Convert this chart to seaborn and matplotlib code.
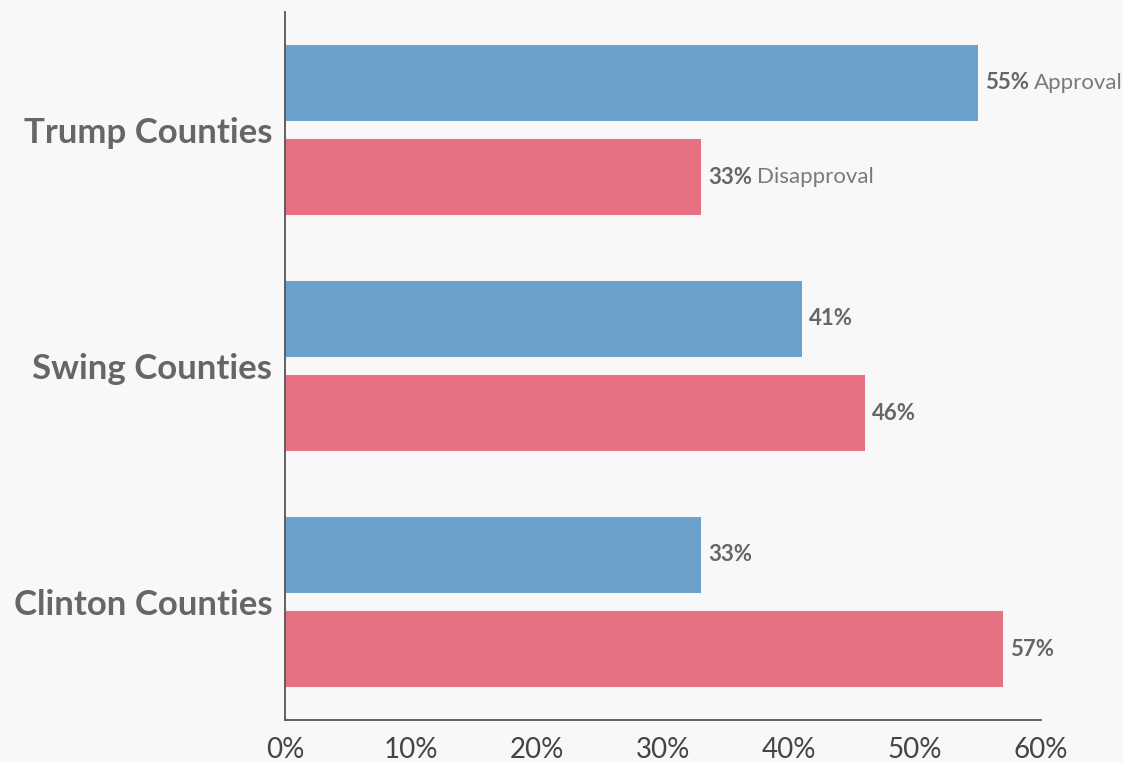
import pandas as pd
import seaborn as sns
import matplotlib.pyplot as plt
from matplotlib.ticker import FuncFormatter

condados = ['Trump Counties', 'Swing Counties', 'Clinton Counties']
aprobacion = [55, 41, 33]
desaprobacion = [33, 46, 57]
series = ['Approval', 'Disapproval']
ticks_x = [0, 10, 20, 30, 40, 50, 60]

colores = ['#6CA1CC', '#E87083']
gris = '#666666'
fondo = '#F8F8F8'

df = pd.DataFrame({
    'condado': condados * 2,
    'serie': [series[0]] * 3 + [series[1]] * 3,
    'valor': aprobacion + desaprobacion,
})

sns.set_theme(style='white')
plt.rcParams['font.family'] = ['Lato', 'DejaVu Sans']

fig = plt.figure(figsize=(11.23, 7.62), dpi=100, facecolor=fondo)
ax = fig.add_axes([285 / 1123, 1 - 720 / 762, (1041 - 285) / 1123, (720 - 12) / 762])
ax.set_facecolor(fondo)

sns.barplot(
    data=df, y='condado', x='valor', hue='serie',
    order=condados, hue_order=series, palette=colores,
    orient='h', width=0.8, gap=0.19, saturation=1,
    linewidth=0, legend=False, ax=ax,
)

ax.set_xlim(0, 60)
ax.set_ylim(2.5, -0.5)
ax.set_xticks(ticks_x)
ax.xaxis.set_major_formatter(FuncFormatter(lambda v, p: f'{v:.0f}%'))
ax.set_xlabel('')
ax.set_ylabel('')

for s in ['top', 'right']:
    ax.spines[s].set_visible(False)
for s in ['left', 'bottom']:
    ax.spines[s].set_color('#555555')
    ax.spines[s].set_linewidth(1.3)

ax.tick_params(axis='x', direction='in', length=13, width=1.3, color='#444444',
               pad=12, labelsize=20, labelcolor='#444444')
ax.tick_params(axis='y', length=0, pad=9, labelsize=25, labelcolor=gris)
for t in ax.get_yticklabels():
    t.set_fontweight('bold')

# etiquetas de valor al final de cada barra
for i, cont in enumerate(ax.containers):
    for j, barra in enumerate(cont):
        v = barra.get_width()
        yc = barra.get_y() + barra.get_height() / 2
        txt = ax.annotate(f'{v:.0f}%', (v, yc), xytext=(5, 0), textcoords='offset points',
                          ha='left', va='center', fontsize=16, fontweight='bold', color=gris)
        if j == 0:
            txt.set_gid(series[i])

# nombre de la serie junto a las barras del primer grupo
fig.canvas.draw()
renderer = fig.canvas.get_renderer()
for t in list(ax.texts):
    if t.get_gid():
        bb = t.get_window_extent(renderer)
        fig.text(bb.x1 + 5, (bb.y0 + bb.y1) / 2, t.get_gid(), transform=None,
                 ha='left', va='center', fontsize=16, color='#7a7a7a')

fig.savefig('out.png', dpi=100, facecolor=fondo)
